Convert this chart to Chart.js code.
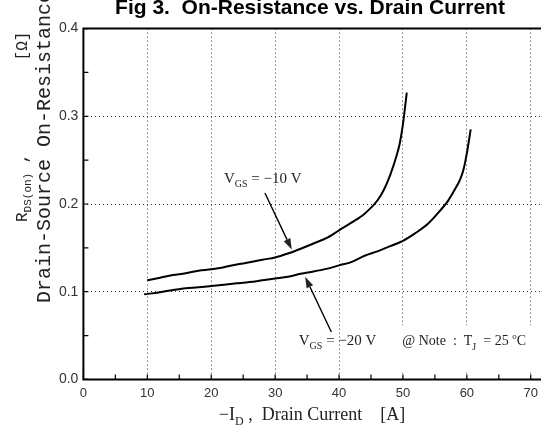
<!DOCTYPE html>
<html>
<head>
<meta charset="utf-8">
<script src="https://cdn.jsdelivr.net/npm/chart.js@4.4.1/dist/chart.umd.min.js"></script>
<style>
  html, body { margin: 0; padding: 0; background: #fff; }
</style>
</head>
<body>
<canvas id="fig3" width="544" height="432"></canvas>
<script>
// tick labels
const xTicks = [0, 10, 20, 30, 40, 50, 60, 70];
const yTicks = [0.0, 0.1, 0.2, 0.3, 0.4];
const xMinor = [5, 15, 25, 35, 45, 55, 65];
const yMinor = [0.05, 0.15, 0.25, 0.35];

// VGS = -10 V
const idVgs10 = [10, 12, 14, 16, 18, 20, 22, 24, 26, 28, 30, 32, 34, 36, 38, 40, 42, 44, 46, 47, 48, 49, 49.5, 50, 50.6];
const rdsVgs10 = [0.113, 0.116, 0.119, 0.121, 0.124, 0.1255, 0.128, 0.131, 0.1335, 0.1365, 0.139, 0.1435, 0.149, 0.155, 0.161, 0.170, 0.179, 0.189, 0.204, 0.216, 0.233, 0.255, 0.269, 0.291, 0.327];

// VGS = -20 V
const idVgs20 = [9.5, 12, 14, 16, 18, 20, 22, 24, 26, 28, 30, 32, 34, 36, 38, 40, 42, 44, 46, 48, 50, 52, 54, 56, 57, 58, 59, 59.5, 60, 60.6];
const rdsVgs20 = [0.097, 0.0995, 0.102, 0.104, 0.105, 0.1065, 0.108, 0.1095, 0.111, 0.113, 0.115, 0.117, 0.1205, 0.123, 0.126, 0.130, 0.134, 0.141, 0.146, 0.152, 0.158, 0.167, 0.178, 0.194, 0.203, 0.215, 0.229, 0.240, 0.258, 0.285];

// annotation anchors in data units: [text x, text y, arrow tail x, tail y, tip x, tip y]
const label10 = [22.0, 0.2245, 28.4, 0.2125, 32.6, 0.148];
const label20 = [33.7, 0.039, 38.8, 0.054, 34.7, 0.117];
const noteAt = [49.9, 0.039];

const SERIF = '"Liberation Serif", serif';
const MONO = '"Liberation Mono", monospace';

function pts(xs, ys) {
  return xs.map((x, i) => ({ x: x, y: ys[i] }));
}

// draws pieces of text one after another, each with own font and baseline shift
function drawRuns(ctx, x, y, runs) {
  let cx = x;
  runs.forEach(r => {
    ctx.font = r.font;
    ctx.fillText(r.t, cx, y + (r.dy || 0));
    cx += ctx.measureText(r.t).width + (r.gap || 0);
  });
}

function runsWidth(ctx, runs) {
  let w = 0;
  runs.forEach(r => {
    ctx.font = r.font;
    w += ctx.measureText(r.t).width + (r.gap || 0);
  });
  return w;
}

function arrow(ctx, x1, y1, x2, y2) {
  const a = Math.atan2(y2 - y1, x2 - x1);
  const len = 11, hw = 3.6;
  ctx.beginPath();
  ctx.moveTo(x1, y1);
  ctx.lineTo(x2 - len * Math.cos(a), y2 - len * Math.sin(a));
  ctx.lineWidth = 1.4;
  ctx.stroke();
  ctx.beginPath();
  ctx.moveTo(x2, y2);
  ctx.lineTo(x2 - len * Math.cos(a) + hw * Math.sin(a), y2 - len * Math.sin(a) - hw * Math.cos(a));
  ctx.lineTo(x2 - len * Math.cos(a) - hw * Math.sin(a), y2 - len * Math.sin(a) + hw * Math.cos(a));
  ctx.closePath();
  ctx.fill();
}

const figDecor = {
  id: 'figDecor',
  beforeDatasetsDraw(chart) {
    const { ctx, scales: { x, y } } = chart;
    // white box behind the note hides the grid there
    ctx.save();
    ctx.fillStyle = '#fff';
    const bx = x.getPixelForValue(noteAt[0]) - 6;
    const by = y.getPixelForValue(noteAt[1]) - 20;
    ctx.fillRect(bx, by, chart.chartArea.right - bx, y.getPixelForValue(0.008) - by);
    ctx.restore();
  },
  afterDraw(chart) {
    const { ctx, chartArea: ca, scales: { x, y } } = chart;
    ctx.save();
    ctx.strokeStyle = '#000';
    ctx.fillStyle = '#000';

    // axes frame: left, bottom, top
    ctx.lineWidth = 2;
    ctx.beginPath();
    ctx.moveTo(ca.right, ca.top);
    ctx.lineTo(ca.left, ca.top);
    ctx.lineTo(ca.left, ca.bottom);
    ctx.lineTo(ca.right, ca.bottom);
    ctx.stroke();

    // inward ticks
    ctx.lineWidth = 1.2;
    ctx.beginPath();
    xTicks.concat(xMinor).forEach(v => {
      const px = x.getPixelForValue(v);
      ctx.moveTo(px, ca.bottom);
      ctx.lineTo(px, ca.bottom - 5);
    });
    yTicks.concat(yMinor).forEach(v => {
      const py = y.getPixelForValue(v);
      ctx.moveTo(ca.left, py);
      ctx.lineTo(ca.left + 5, py);
    });
    ctx.stroke();

    // title
    ctx.fillStyle = '#000';
    ctx.font = 'bold 21px "Liberation Sans", Arial, sans-serif';
    ctx.textAlign = 'center';
    ctx.textBaseline = 'alphabetic';
    ctx.fillText('Fig 3.  On-Resistance vs. Drain Current', 310, 14);
    ctx.textAlign = 'left';

    ctx.fillStyle = '#222';
    // x axis title
    const xt = [
      { t: '\u2212I', font: '18px ' + SERIF },
      { t: 'D', font: '12px ' + SERIF, dy: 5 },
      { t: ' ,  Drain Current    [A]', font: '18px ' + SERIF }
    ];
    drawRuns(ctx, 312 - runsWidth(ctx, xt) / 2, 420, xt);

    // y axis titles, rotated
    ctx.save();
    ctx.translate(50, 303);
    ctx.rotate(-Math.PI / 2);
    ctx.font = '20px ' + MONO;
    ctx.fillText('Drain-Source On-Resistance', 0, 0);
    ctx.restore();

    ctx.save();
    ctx.translate(27, 222);
    ctx.rotate(-Math.PI / 2);
    drawRuns(ctx, 0, 0, [
      { t: 'R', font: '16px ' + MONO },
      { t: 'DS(on)', font: '11px ' + MONO, dy: 4 },
      { t: ' ,  ', font: '16px ' + MONO, gap: 74 },
      { t: '[\u03a9]', font: '16px ' + MONO }
    ]);
    ctx.restore();

    // curve labels and arrows
    drawRuns(ctx, x.getPixelForValue(label10[0]), y.getPixelForValue(label10[1]), [
      { t: 'V', font: '15px ' + SERIF },
      { t: 'GS', font: '10px ' + SERIF, dy: 4 },
      { t: ' = \u221210 V', font: '15px ' + SERIF }
    ]);
    arrow(ctx, x.getPixelForValue(label10[2]), y.getPixelForValue(label10[3]),
      x.getPixelForValue(label10[4]), y.getPixelForValue(label10[5]));

    drawRuns(ctx, x.getPixelForValue(label20[0]), y.getPixelForValue(label20[1]), [
      { t: 'V', font: '15px ' + SERIF },
      { t: 'GS', font: '10px ' + SERIF, dy: 4 },
      { t: ' = \u221220 V', font: '15px ' + SERIF }
    ]);
    arrow(ctx, x.getPixelForValue(label20[2]), y.getPixelForValue(label20[3]),
      x.getPixelForValue(label20[4]), y.getPixelForValue(label20[5]));

    drawRuns(ctx, x.getPixelForValue(noteAt[0]), y.getPixelForValue(noteAt[1]), [
      { t: '@ Note  :  T', font: '14px ' + SERIF },
      { t: 'J', font: '10px ' + SERIF, dy: 5 },
      { t: '  = 25 ', font: '14px ' + SERIF },
      { t: 'o', font: '9px ' + SERIF, dy: -6 },
      { t: 'C', font: '14px ' + SERIF }
    ]);
    ctx.restore();
  }
};

const ctx = document.getElementById('fig3').getContext('2d');
const chart = new Chart(ctx, {
  type: 'scatter',
  data: {
    datasets: [{
      label: 'VGS = -10 V',
      data: pts(idVgs10, rdsVgs10),
      showLine: true,
      borderColor: '#000',
      borderWidth: 2,
      pointRadius: 0,
      cubicInterpolationMode: 'monotone'
    },
    {
      label: 'VGS = -20 V',
      data: pts(idVgs20, rdsVgs20),
      showLine: true,
      borderColor: '#000',
      borderWidth: 2,
      pointRadius: 0,
      cubicInterpolationMode: 'monotone'
    }]
  },
  options: {
    responsive: false,
    animation: false,
    layout: { padding: { top: 28.6, right: 0, left: 0, bottom: 0 } },
    scales: {
      x: {
        type: 'linear',
        min: 0,
        max: 71.6,
        afterBuildTicks: scale => { scale.ticks = xTicks.map(v => ({ value: v })); },
        afterFit: scale => { scale.height = 52.6; },
        grid: { color: '#333', lineWidth: 1, drawTicks: false },
        border: { display: false, dash: [1, 3] },
        ticks: {
          padding: 6,
          color: '#333',
          font: { family: '"Liberation Sans", sans-serif', size: 13 },
          callback: v => String(v)
        }
      },
      y: {
        type: 'linear',
        min: 0,
        max: 0.4,
        afterBuildTicks: scale => { scale.ticks = yTicks.map(v => ({ value: v })); },
        afterFit: scale => { scale.width = 83.4; },
        grid: { color: '#333', lineWidth: 1, drawTicks: false },
        border: { display: false, dash: [1, 3] },
        ticks: {
          padding: 5,
          color: '#333',
          font: { family: '"Liberation Sans", sans-serif', size: 14 },
          callback: v => v.toFixed(1)
        }
      }
    },
    plugins: {
      legend: { display: false },
      tooltip: { enabled: false }
    }
  },
  plugins: [figDecor]
});
</script>
</body>
</html>
